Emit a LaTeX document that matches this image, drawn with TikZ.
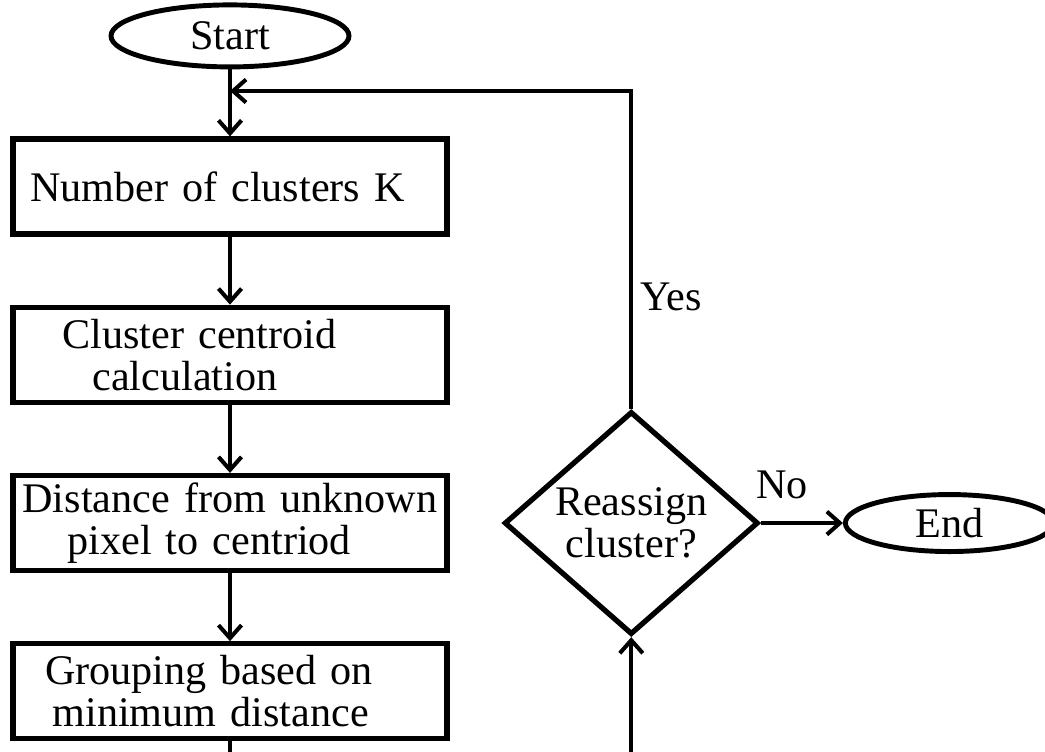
\documentclass[tikz,border=0pt]{standalone}
\usepackage{fontspec}
\setmainfont{Liberation Serif}
\usetikzlibrary{arrows.meta, positioning, shapes.geometric}
\tikzset{
	terminal/.style={ellipse, draw=black, line width=2.8pt, inner sep=0pt, align=center, font=\fontsize{24}{24}\selectfont},
	process/.style={rectangle, draw=black, line width=3pt, text width=8.3cm, inner xsep=0.19cm, align=left, minimum height=1.9cm, font=\fontsize{24}{24}\selectfont},
	decision/.style={diamond, draw=black, line width=3pt, minimum width=5.08cm, minimum height=3.72cm, inner sep=0pt, align=center, font=\fontsize{24}{24}\selectfont},
	tag/.style={inner sep=0pt, font=\fontsize{24}{24}\selectfont},
	arrow/.style={-{Straight Barb[length=2.6mm, width=4.6mm]}, line width=2.3pt},
	line/.style={line width=2.3pt},
}

\begin{document}
\begin{tikzpicture}[node distance=1.36cm]
		\useasboundingbox[fill=white] (0,0) rectangle (20.9,-15.04);
		\node[process] (nclusters) at (4.6,-3.73) {\hspace*{0.15cm}Number of clusters K};
		\node[terminal, minimum width=4.76cm, minimum height=1.24cm, above=1.34cm of nclusters] (start) {Start};
		\node[process, below=of nclusters] (centroid) {\hspace*{0.8cm}Cluster centroid\\\hspace*{1.4cm}calculation};
		\node[process, below=of centroid] (distance) {Distance from unknown\\\hspace*{0.9cm}pixel to centriod};
		\node[process, below=of distance] (grouping) {\hspace*{0.45cm}Grouping based on\\\hspace*{0.6cm}minimum distance};
		\node[decision, right=1.04cm of distance] (reassign) {Reassign\\cluster?};
		\node[terminal, minimum width=4.16cm, minimum height=1.14cm, right=1.64cm of reassign] (stop) {End};
		\node[tag] (yes) at (13.42,-5.94) {Yes};
		\node[tag] (no) at (15.64,-9.69) {No};
		\coordinate (join) at (4.6,-1.82);
		\coordinate (gout) at (4.6,-15.04);
		\coordinate (rin) at (reassign.south |- gout);
		\draw[arrow] (start) -- (nclusters);
		\draw[arrow] (nclusters) -- (centroid);
		\draw[arrow] (centroid) -- (distance);
		\draw[arrow] (distance) -- (grouping);
		\draw[line] (grouping) -- (gout);
		\draw[arrow] (rin) -- (reassign.south);
		\draw[arrow] (reassign.north) |- (join);
		\draw[arrow] (reassign.east) -- (stop.west);
	\end{tikzpicture}
\end{document}
